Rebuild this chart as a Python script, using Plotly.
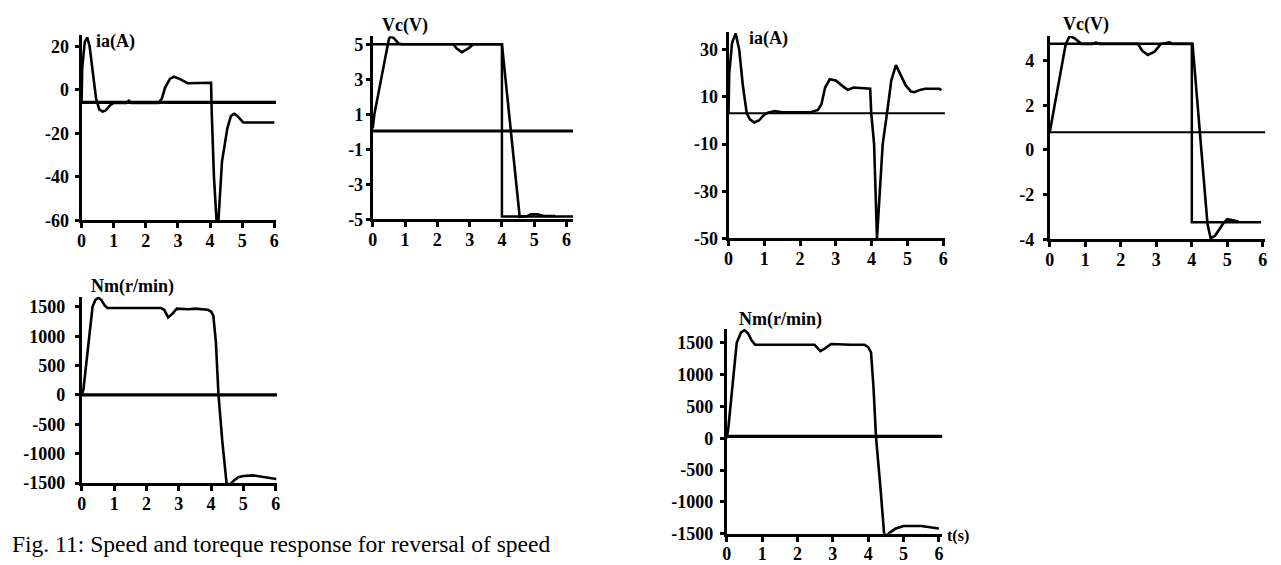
import plotly.graph_objects as go

W, H = 1281, 565

# ---------------- data ----------------
x_ticks = [0, 1, 2, 3, 4, 5, 6]
x_ticktext = ["0", "1", "2", "3", "4", "5", "6"]

# Panel 1: ia(A) (left)
ia1_t = [0, 0.02, 0.1, 0.18, 0.25, 0.35, 0.45, 0.55, 0.65, 0.75, 0.9, 1.0, 1.4, 1.47, 1.55,
         2.4, 2.5, 2.6, 2.75, 2.87, 3.05, 3.3, 3.5, 3.6, 4.03, 4.05, 4.12, 4.2, 4.26, 4.37,
         4.54, 4.65, 4.75, 4.85, 5.03, 6.0]
ia1_v = [-6, 10, 22, 24, 20, 8, -4, -9, -10, -9.5, -7, -6, -6, -5, -6,
         -6, -4, 1, 5, 6, 5, 3, 3, 3.2, 3.2, -10, -40, -60, -60, -33,
         -17.5, -12, -11, -12, -15, -15]
ia1_ref = -5.8
ia1_yticks = [-60, -40, -20, 0, 20]
ia1_yticktext = ["-60", "-40", "-20", "0", "20"]

# Panel 2: Vc(V) (left)
vc1_t = [0, 0.05, 0.5, 0.55, 0.65, 0.8, 0.9, 1.25, 2.5, 2.6, 2.76, 2.95, 3.12, 4.0,
         4.55, 4.8, 4.9, 5.1, 5.3, 5.65]
vc1_v = [0.2, 1.0, 5.3, 5.45, 5.35, 5.05, 5.0, 5.0, 5.0, 4.75, 4.55, 4.75, 5.0, 5.0,
         -4.85, -4.8, -4.7, -4.7, -4.8, -4.8]
vc1_step_t = [0, 4.0, 4.0, 6.2]
vc1_step_v = [5.0, 5.0, -4.83, -4.83]
vc1_ref = 0.05
vc1_yticks = [-5, -3, -1, 1, 3, 5]
vc1_yticktext = ["-5", "-3", "-1", "1", "3", "5"]

# Panel 3: ia(A) (right)
ia2_t = [0, 0.02, 0.1, 0.2, 0.3, 0.4, 0.51, 0.6, 0.72, 0.85, 1.0, 1.1, 1.3, 1.5, 2.3,
         2.41, 2.5, 2.6, 2.7, 2.83, 3.0, 3.2, 3.33, 3.5, 3.96, 3.99, 4.07, 4.15, 4.31,
         4.43, 4.55, 4.68, 4.8, 4.95, 5.1, 5.2, 5.35, 5.5, 5.9, 5.95]
ia2_v = [3, 20, 33, 37, 30, 15, 3, 0.5, -0.8, 0, 2.5, 3.3, 4, 3.5, 3.5,
         4, 4.5, 7, 14, 17.5, 17, 14.5, 13, 14, 13.5, 3, -10, -50, -10,
         3, 17, 23.5, 20, 15, 12.3, 12, 13, 13.5, 13.5, 12.8]
ia2_ref = 3.1
ia2_yticks = [-50, -30, -10, 10, 30]
ia2_yticktext = ["-50", "-30", "-10", "10", "30"]

# Panel 4: Vc(V) (right)
vc2_t = [0, 0.45, 0.56, 0.7, 0.89, 1.2, 1.3, 1.4, 2.48, 2.6, 2.76, 2.95, 3.13, 3.38, 3.45,
         4.02, 4.44, 4.53, 4.65, 4.76, 4.88, 5.0, 5.15, 5.32]
vc2_v = [0.8, 4.75, 5.1, 5.0, 4.75, 4.75, 4.8, 4.75, 4.75, 4.45, 4.25, 4.4, 4.75, 4.82, 4.75,
         4.75, -3.3, -3.95, -3.85, -3.6, -3.3, -3.1, -3.15, -3.2]
vc2_step_t = [0, 4.0, 4.0, 5.95]
vc2_step_v = [4.76, 4.76, -3.24, -3.24]
vc2_ref = 0.79
vc2_yticks = [-4, -2, 0, 2, 4]
vc2_yticktext = ["-4", "-2", "0", "2", "4"]

# Panel 5: Nm(r/min) (left)
nm1_t = [0, 0.05, 0.33, 0.42, 0.51, 0.6, 0.7, 0.79, 2.45, 2.55, 2.67, 2.8, 2.94, 3.3,
         3.5, 3.9, 4.0, 4.07, 4.15, 4.23, 4.35, 4.48, 4.58, 4.7, 4.84, 5.0, 5.3, 5.6, 6.02]
nm1_v = [0, 100, 1500, 1620, 1655, 1620, 1530, 1480, 1480, 1450, 1320, 1380, 1470, 1460,
         1470, 1450, 1420, 1350, 900, 0, -800, -1500, -1530, -1460, -1400, -1380, -1370,
         -1400, -1430]
nm1_ref = 0
nm_yticks = [-1500, -1000, -500, 0, 500, 1000, 1500]
nm_yticktext = ["-1500", "-1000", "-500", "0", "500", "1000", "1500"]

# Panel 6: Nm(r/min) (right)
nm2_t = [0, 0.05, 0.28, 0.4, 0.5, 0.6, 0.7, 0.8, 2.48, 2.58, 2.65, 2.8, 2.95, 3.5, 3.89,
         4.0, 4.08, 4.15, 4.22, 4.35, 4.45, 4.52, 4.62, 4.78, 5.0, 5.5, 5.8, 6.0]
nm2_v = [0, 200, 1500, 1660, 1700, 1650, 1540, 1470, 1470, 1400, 1370, 1420, 1480, 1470,
         1470, 1430, 1350, 800, 30, -800, -1500, -1530, -1480, -1420, -1380, -1380,
         -1400, -1420]
nm2_ref = 30

caption = "Fig. 11: Speed and toreque response for reversal of speed"

# ---------------- layout helpers ----------------
def xdom(va, pa, vb, pb, r0, r1):
    k = (pb - pa) / (vb - va)
    p0 = pa + (r0 - va) * k
    p1 = pa + (r1 - va) * k
    return [p0 / W, p1 / W]

def ydom(va, pa, vb, pb, r0, r1):
    k = (pb - pa) / (vb - va)
    p0 = pa + (r0 - va) * k
    p1 = pa + (r1 - va) * k
    return [1 - p0 / H, 1 - p1 / H]

def bold(labels):
    return ["<b>" + s + "</b>" for s in labels]

SERIF = "Liberation Serif"
tickfont = dict(family=SERIF, size=18, color="black", weight="bold")

panels = [
    dict(x=(0, 69, 6, 263), xr=[0, 6.05], y=(20, 37, -60, 215), yr=[-60, 25.3],
         yt=ia1_yticks, ytt=ia1_yticktext, so=2),
    dict(x=(0, 362, 6, 557), xr=[0, 6.2], y=(5, 35, -5, 214), yr=[-5, 5.45],
         yt=vc1_yticks, ytt=vc1_yticktext, so=-1),
    dict(x=(0, 720, 6, 936), xr=[0, 6.05], y=(30, 40.7, -50, 233.3), yr=[-50, 37.5],
         yt=ia2_yticks, ytt=ia2_yticktext, so=0),
    dict(x=(0, 1043.3, 6, 1257.7), xr=[0, 6.07], y=(4, 51.7, -4, 234.3), yr=[-4, 5.1],
         yt=vc2_yticks, ytt=vc2_yticktext, so=5),
    dict(x=(0, 69.3, 6, 264.3), xr=[0, 6.05], y=(1500, 303.3, -1500, 483.3), yr=[-1500, 1670],
         yt=nm_yticks, ytt=nm_yticktext, so=6),
    dict(x=(0, 718.3, 6, 931.7), xr=[0, 6.1], y=(1500, 340, -1500, 535), yr=[-1500, 1720],
         yt=nm_yticks, ytt=nm_yticktext, so=3),
]

fig = go.Figure()
layout = dict(width=W, height=H, margin=dict(l=0, r=0, t=0, b=0),
              paper_bgcolor="white", plot_bgcolor="white", showlegend=False)

for i, p in enumerate(panels, start=1):
    sx = "" if i == 1 else str(i)
    xa = dict(domain=xdom(*p["x"], *p["xr"]), range=p["xr"], anchor="y" + sx,
              showline=True, linewidth=3, linecolor="black", showgrid=False, zeroline=False,
              ticks="outside", tickwidth=3, ticklen=5, tickcolor="black",
              ticklabelstandoff=-3,
              tickvals=x_ticks, ticktext=bold(x_ticktext), tickfont=tickfont, fixedrange=True)
    ya = dict(domain=ydom(*p["y"], *p["yr"]), range=p["yr"], anchor="x" + sx,
              showline=True, linewidth=3, linecolor="black", showgrid=False, zeroline=False,
              ticks="outside", tickwidth=3, ticklen=4, tickcolor="black",
              ticklabelstandoff=p["so"],
              tickvals=p["yt"], ticktext=bold(p["ytt"]), tickfont=tickfont, fixedrange=True)
    layout["xaxis" + sx] = xa
    layout["yaxis" + sx] = ya

def add_line(i, t, v, width):
    sx = "" if i == 1 else str(i)
    fig.add_trace(go.Scatter(x=t, y=v, mode="lines", xaxis="x" + sx, yaxis="y" + sx,
                             line=dict(color="black", width=width), hoverinfo="skip"))

# reference horizontal lines
add_line(1, [0, panels[0]["xr"][1]], [ia1_ref, ia1_ref], 3.2)
add_line(2, [0, panels[1]["xr"][1]], [vc1_ref, vc1_ref], 3)
add_line(3, [0, panels[2]["xr"][1]], [ia2_ref, ia2_ref], 2)
add_line(4, [0, panels[3]["xr"][1]], [vc2_ref, vc2_ref], 2)
add_line(5, [0, panels[4]["xr"][1]], [nm1_ref, nm1_ref], 3.2)
add_line(6, [0, panels[5]["xr"][1]], [nm2_ref, nm2_ref], 3.2)

# step references
add_line(2, vc1_step_t, vc1_step_v, 2.5)
add_line(4, vc2_step_t, vc2_step_v, 2.5)

# responses
add_line(1, ia1_t, ia1_v, 2.6)
add_line(2, vc1_t, vc1_v, 2.6)
add_line(3, ia2_t, ia2_v, 2.6)
add_line(4, vc2_t, vc2_v, 2.6)
add_line(5, nm1_t, nm1_v, 2.6)
add_line(6, nm2_t, nm2_v, 2.6)

titlefont = dict(family=SERIF, size=18, color="black", weight="bold")

def ann(text, px, py, xanchor="left", font=titlefont):
    return dict(text=text, x=px / W, y=1 - py / H, xref="paper", yref="paper",
                xanchor=xanchor, yanchor="middle", showarrow=False, font=font)

layout["annotations"] = [
    ann("<b>ia(A)</b>", 82, 32),
    ann("<b>Vc(V)</b>", 394, 16, "center"),
    ann("<b>ia(A)</b>", 739, 29),
    ann("<b>Vc(V)</b>", 1080, 15, "center"),
    ann("<b>Nm(r/min)</b>", 120, 282, "center"),
    ann("<b>Nm(r/min)</b>", 772, 316, "center"),
    ann("<b>t(s)</b>", 951, 537, "center", dict(family=SERIF, size=16, color="black", weight="bold")),
    ann("|", 1273, 240, "center", dict(family=SERIF, size=10, color="black")),
    ann(caption, -3, 546, "left", dict(family=SERIF, size=23.5, color="black")),
]

fig.update_layout(**layout)
fig.write_html("out.html")
